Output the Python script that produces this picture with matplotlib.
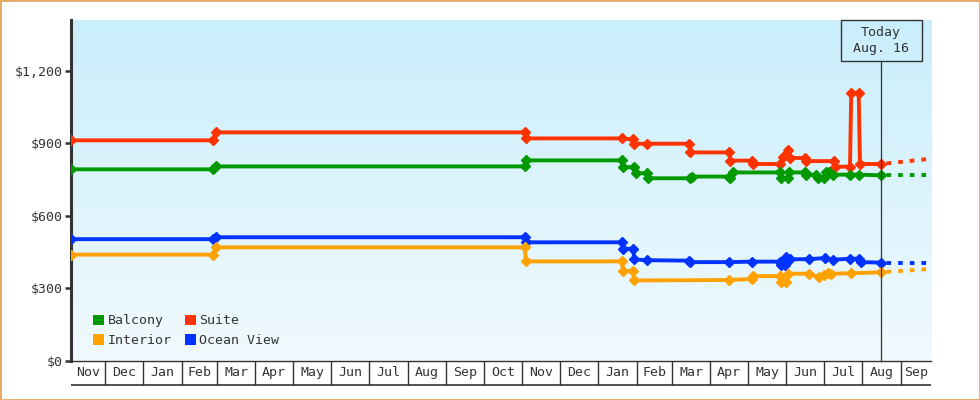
import numpy as np
import pandas as pd
import matplotlib
matplotlib.use("Agg")
import matplotlib.pyplot as plt
import matplotlib.dates as mdates
from matplotlib.patches import Rectangle, Patch
from matplotlib.ticker import FuncFormatter

# ---------------- data ----------------
suite_dates = ["2017-11-04", "2018-02-26", "2018-02-28", "2018-11-03", "2018-11-04",
               "2019-01-20", "2019-01-29", "2019-01-30", "2019-02-09", "2019-03-15",
               "2019-03-16", "2019-04-16", "2019-04-17", "2019-05-04", "2019-05-05",
               "2019-05-27", "2019-05-29", "2019-06-02", "2019-06-04", "2019-06-16",
               "2019-06-17", "2019-07-09", "2019-07-10", "2019-07-22", "2019-07-23",
               "2019-07-29", "2019-07-30", "2019-08-16"]
suite_vals = [912, 912, 945, 945, 920,
              920, 916, 898, 898, 898,
              862, 862, 828, 828, 814,
              814, 842, 870, 840, 838,
              826, 826, 803, 803, 1109,
              1109, 814, 814]

balcony_dates = ["2017-11-04", "2018-02-26", "2018-02-28", "2018-11-03", "2018-11-04",
                 "2019-01-20", "2019-01-21", "2019-01-30", "2019-01-31", "2019-02-09",
                 "2019-02-10", "2019-03-16", "2019-03-17", "2019-04-16", "2019-04-17",
                 "2019-04-19", "2019-05-27", "2019-05-28", "2019-06-02", "2019-06-03",
                 "2019-06-16", "2019-06-17", "2019-06-25", "2019-06-26", "2019-07-01",
                 "2019-07-03", "2019-07-05", "2019-07-08", "2019-07-22", "2019-07-29",
                 "2019-08-16"]
balcony_vals = [792, 792, 804, 804, 829,
                829, 801, 801, 776, 776,
                755, 755, 762, 762, 756,
                779, 779, 756, 756, 779,
                779, 770, 770, 756, 756,
                780, 780, 770, 770, 770,
                767]

ocean_dates = ["2017-11-04", "2018-02-26", "2018-02-28", "2018-11-03", "2018-11-04",
               "2019-01-20", "2019-01-21", "2019-01-29", "2019-01-30", "2019-02-09",
               "2019-03-15", "2019-03-16", "2019-04-16", "2019-05-04", "2019-05-27",
               "2019-05-28", "2019-05-31", "2019-06-01", "2019-06-04", "2019-06-19",
               "2019-07-02", "2019-07-08", "2019-07-22", "2019-07-29", "2019-07-31",
               "2019-08-16"]
ocean_vals = [503, 503, 511, 511, 490,
              490, 463, 463, 419, 416,
              414, 408, 408, 410, 410,
              396, 396, 428, 420, 420,
              425, 418, 422, 422, 408,
              406]

interior_dates = ["2017-11-04", "2018-02-26", "2018-02-28", "2018-11-03", "2018-11-04",
                  "2019-01-20", "2019-01-21", "2019-01-29", "2019-01-30", "2019-04-16",
                  "2019-05-04", "2019-05-05", "2019-05-27", "2019-05-28", "2019-06-01",
                  "2019-06-02", "2019-06-19", "2019-06-27", "2019-07-01", "2019-07-04",
                  "2019-07-07", "2019-07-23", "2019-08-16"]
interior_vals = [439, 439, 469, 469, 411,
                 411, 371, 371, 332, 334,
                 338, 350, 350, 325, 325,
                 360, 360, 346, 354, 364,
                 360, 362, 366]

proj_dates = ["2019-08-16", "2019-09-25"]
suite_proj = [814, 836]
balcony_proj = [767, 767]
ocean_proj = [406, 406]
interior_proj = [366, 380]

series_names = ["Balcony", "Interior", "Suite", "Ocean View"]
series_colors = {"Balcony": "#009a00", "Suite": "#ff3300",
                 "Interior": "#ffa200", "Ocean View": "#0033ff"}

today = "2019-08-16"
today_label = "Today\nAug. 16"
x_start, x_end = "2017-11-04", "2019-09-25"
y_ticks = [0, 300, 600, 900, 1200]
y_max = 1410

# ---------------- figure ----------------
TXT = "#333333"
FONT = "DejaVu Sans Mono"
FS = 9.5
plt.rcParams["font.family"] = [FONT, "DejaVu Sans"]

fig = plt.figure(figsize=(9.8, 4.0), dpi=100)
L, R, B, T = 71 / 980, 931 / 980, 1 - 360.7 / 400, 1 - 20 / 400
ax = fig.add_axes([L, B, R - L, T - B])

# gradient background
grad = np.linspace(0, 1, 256).reshape(-1, 1)
top_c = np.array([0xc9, 0xee, 0xfb]) / 255
bot_c = np.array([0xf1, 0xfa, 0xfe]) / 255
img = top_c[None, None, :] * (1 - grad[..., None]) + bot_c[None, None, :] * grad[..., None]
ax.imshow(img, extent=[0, 1, 0, 1], transform=ax.transAxes, aspect="auto",
          zorder=0, interpolation="bilinear")

def d(lst):
    return pd.to_datetime(lst)

data = {
    "Suite": (suite_dates, suite_vals, suite_proj),
    "Balcony": (balcony_dates, balcony_vals, balcony_proj),
    "Ocean View": (ocean_dates, ocean_vals, ocean_proj),
    "Interior": (interior_dates, interior_vals, interior_proj),
}
for name in ["Suite", "Balcony", "Ocean View", "Interior"]:
    ds, vs, pv = data[name]
    c = series_colors[name]
    ax.plot(d(ds), vs, color=c, lw=2.8, marker="D", ms=4.8, mec=c, mfc=c,
            solid_joinstyle="miter", zorder=3)
    ax.plot(d(proj_dates), pv, color=c, lw=2.8, linestyle=(1.6, (1.2, 1.8)),
            solid_capstyle="butt", dash_capstyle="butt", zorder=3)

ax.set_xlim(pd.Timestamp(x_start), pd.Timestamp(x_end))
ax.set_ylim(0, y_max)

# spines
for s in ["top", "right"]:
    ax.spines[s].set_visible(False)
ax.spines["left"].set_color(TXT)
ax.spines["left"].set_linewidth(2.2)
ax.spines["bottom"].set_color(TXT)
ax.spines["bottom"].set_linewidth(1.0)

ax.set_yticks(y_ticks)
ax.yaxis.set_major_formatter(FuncFormatter(lambda v, p: f"${v:,.0f}"))
ax.tick_params(axis="y", length=4, width=1.8, color=TXT, labelcolor=TXT,
               labelsize=FS, pad=2)
for lab in ax.get_yticklabels():
    lab.set_fontfamily(FONT)
ax.set_xticks([])

# month boxes below the axis
trans = ax.get_xaxis_transform()
box_h = -24.3 / 340.7
xs, xe = pd.Timestamp(x_start), pd.Timestamp(x_end)
bounds = list(pd.date_range("2017-11-01", "2019-10-01", freq="MS"))
for i, mstart in enumerate(bounds[:-1]):
    mend = bounds[i + 1]
    if mstart > xs:
        ax.plot([mstart, mstart], [0, box_h], transform=trans, color=TXT,
                lw=1.0, clip_on=False, solid_capstyle="butt")
    a, b = max(mstart, xs), min(mend, xe)
    mid = a + (b - a) / 2
    ax.text(mid, box_h / 2, mstart.strftime("%b"), transform=trans,
            ha="center", va="center", fontsize=FS, color=TXT, fontfamily=FONT)
ax.plot([xs, xe], [box_h, box_h], transform=trans, color=TXT, lw=1.2,
        clip_on=False, solid_capstyle="butt")

# today marker line + box
fig.canvas.draw()
tx, _ = ax.transData.transform((mdates.date2num(pd.Timestamp(today)), 0))
H = 400
box_w, box_top, box_bot = 81, H - 20, H - 61
ax_bot = H - 360.7
fig.add_artist(plt.Line2D([tx, tx], [ax_bot, box_bot], transform=None,
                          color=TXT, lw=0.9, zorder=4))
fig.add_artist(Rectangle((tx - box_w / 2, box_bot), box_w, box_top - box_bot,
                         transform=None, facecolor="none", edgecolor=TXT,
                         lw=1.0, zorder=5))
fig.text(tx / 980, (box_bot + box_top) / 2 / H, today_label, ha="center",
         va="center", fontsize=FS, color=TXT, fontfamily=FONT, linespacing=1.25)

# legend
handles = [Patch(facecolor=series_colors[n], edgecolor="none", label=n)
           for n in series_names]
leg = ax.legend(handles=handles, ncol=2, loc="lower left",
                bbox_to_anchor=(0.004, -0.014), frameon=False, fontsize=FS,
                handlelength=0.85, handleheight=0.85, handletextpad=0.25,
                columnspacing=1.0, labelspacing=0.5, borderpad=0.9,
                prop={"family": FONT, "size": FS})
for t in leg.get_texts():
    t.set_color(TXT)

# outer border
fig.add_artist(Rectangle((0, 0), 1, 1, transform=fig.transFigure,
                         facecolor="none", edgecolor="#e8a866", lw=2.0))

fig.savefig("out.png", dpi=100)
